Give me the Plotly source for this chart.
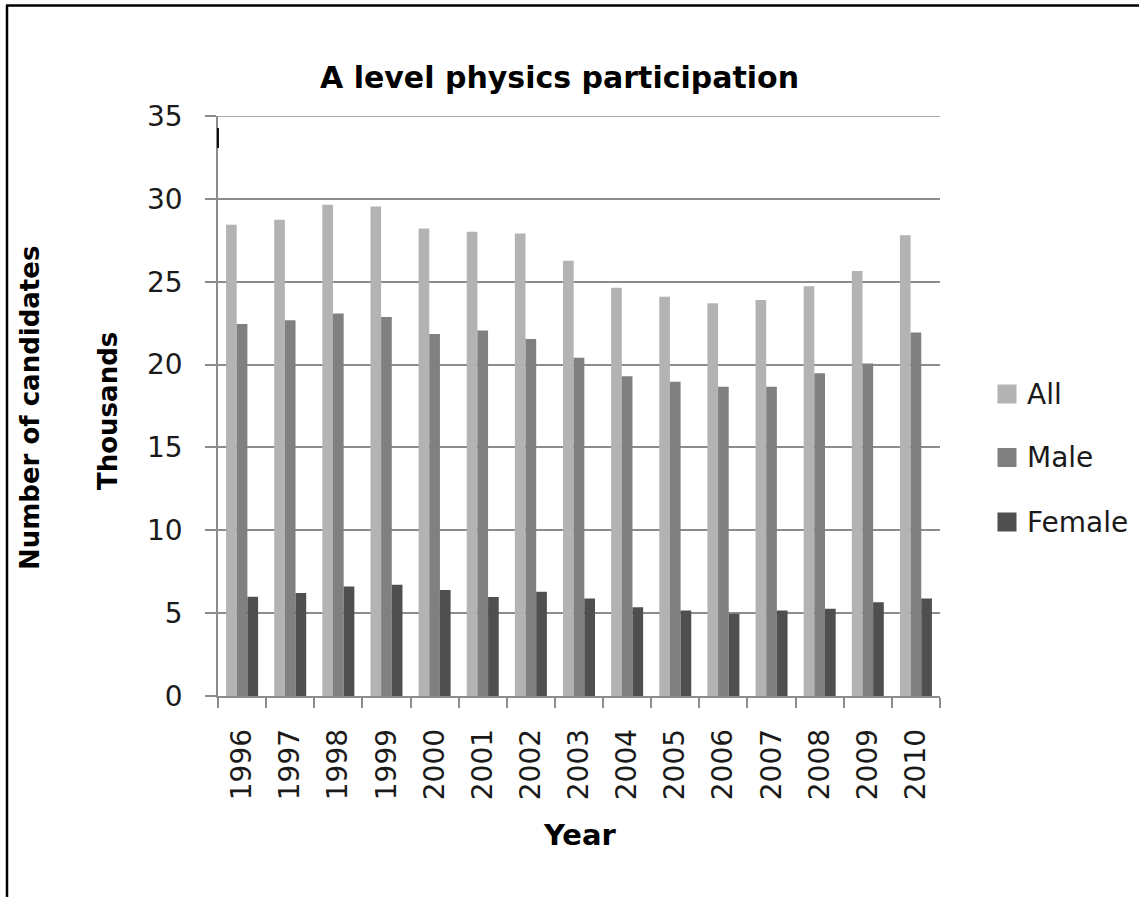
import plotly.graph_objects as go

# A level physics entries (thousands of candidates)
years = ["1996", "1997", "1998", "1999", "2000", "2001", "2002", "2003",
         "2004", "2005", "2006", "2007", "2008", "2009", "2010"]
all_cand = [28.43, 28.74, 29.64, 29.54, 28.21, 28.01, 27.91, 26.26,
            24.63, 24.10, 23.70, 23.90, 24.73, 25.65, 27.81]
male_cand = [22.45, 22.67, 23.08, 22.87, 21.85, 22.05, 21.54, 20.41,
             19.29, 18.96, 18.66, 18.66, 19.47, 20.07, 21.93]
female_cand = [5.99, 6.21, 6.61, 6.71, 6.39, 5.97, 6.29, 5.88,
               5.36, 5.16, 4.96, 5.16, 5.26, 5.66, 5.88]
series_names = ["All", "Male", "Female"]
y_ticks = [0, 5, 10, 15, 20, 25, 30, 35]

colors = ["#b3b3b3", "#808080", "#4f4f4f"]
GRID = "#8c8c8c"
FONT = "DejaVu Sans"
W, H = 1139, 897
L, R, T, B = 218, 940, 116, 696  # plot area in pixels


def px(xp):
    return (xp - L) / (R - L)


def py(yp):
    return (B - yp) / (B - T)


fig = go.Figure()
for name, vals, col in zip(series_names, [all_cand, male_cand, female_cand], colors):
    fig.add_trace(go.Bar(x=years, y=vals, name=name, marker_color=col,
                         marker_line_width=0, showlegend=False))

fig.update_layout(
    width=W, height=H,
    margin=dict(l=L, r=W - R, t=T, b=H - B, pad=0),
    paper_bgcolor="white", plot_bgcolor="white",
    barmode="group", bargap=0.335, bargroupgap=0,
    font=dict(family=FONT, color="#1a1a1a"),
    xaxis=dict(
        type="category", tickson="boundaries", ticks="outside", ticklen=10,
        tickwidth=1.5, tickcolor=GRID, showline=True, linecolor=GRID,
        linewidth=1.5, showgrid=False, tickangle=-90,
        tickfont=dict(size=28, family=FONT, color="#1a1a1a"),
        ticklabelstandoff=20,
    ),
    yaxis=dict(
        range=[0, 35], tickvals=y_ticks, ticks="outside", ticklen=11,
        tickwidth=1.5, tickcolor=GRID, showline=True, linecolor=GRID,
        linewidth=1.5, showgrid=True, gridcolor=GRID, gridwidth=1.5,
        zeroline=False, tickfont=dict(size=28, family=FONT, color="#1a1a1a"),
        ticklabelstandoff=17,
    ),
)

annotations = [
    dict(text="<b>A level physics participation</b>", x=px(559), y=py(77),
         font=dict(size=30, family=FONT, color="#000000")),
    dict(text="<b>Number of candidates</b>", x=px(30), y=py(408), textangle=-90,
         font=dict(size=26, family=FONT, color="#000000")),
    dict(text="<b>Thousands</b>", x=px(108), y=py(411), textangle=-90,
         font=dict(size=26, family=FONT, color="#000000")),
    dict(text="<b>Year</b>", x=px(580), y=py(835),
         font=dict(size=29, family=FONT, color="#000000")),
]
shapes = [
    # top gridline at the axis maximum
    dict(type="line", xref="paper", yref="y", x0=px(207), x1=1,
         y0=y_ticks[-1], y1=y_ticks[-1], line=dict(color=GRID, width=1.5)),
    # outer frame (left and top edges)
    dict(type="line", xref="paper", yref="paper", x0=px(7), x1=px(7),
         y0=py(5.5), y1=py(H + 5), line=dict(color="black", width=2.5)),
    dict(type="line", xref="paper", yref="paper", x0=px(6), x1=px(W + 5),
         y0=py(5.5), y1=py(5.5), line=dict(color="black", width=2.5)),
    # small dark mark on the value axis
    dict(type="line", xref="paper", yref="paper", x0=px(218), x1=px(218),
         y0=py(128), y1=py(148), line=dict(color="#111111", width=2)),
]

# legend drawn as swatches with labels
legend_y = [394, 457.5, 522]
for name, col, ly in zip(series_names, colors, legend_y):
    shapes.append(dict(type="rect", xref="paper", yref="paper",
                       x0=px(997.5), x1=px(1016.5), y0=py(ly + 9.5), y1=py(ly - 9.5),
                       fillcolor=col, line=dict(width=0)))
    annotations.append(dict(text=name, x=px(1025), y=py(ly), xanchor="left",
                            font=dict(size=28, family=FONT, color="#1a1a1a")))

for a in annotations:
    a.setdefault("xref", "paper")
    a.setdefault("yref", "paper")
    a.setdefault("showarrow", False)
    a.setdefault("yanchor", "middle")
    a.setdefault("xanchor", "center")

fig.update_layout(annotations=annotations, shapes=shapes)
fig.write_html("out.html")
